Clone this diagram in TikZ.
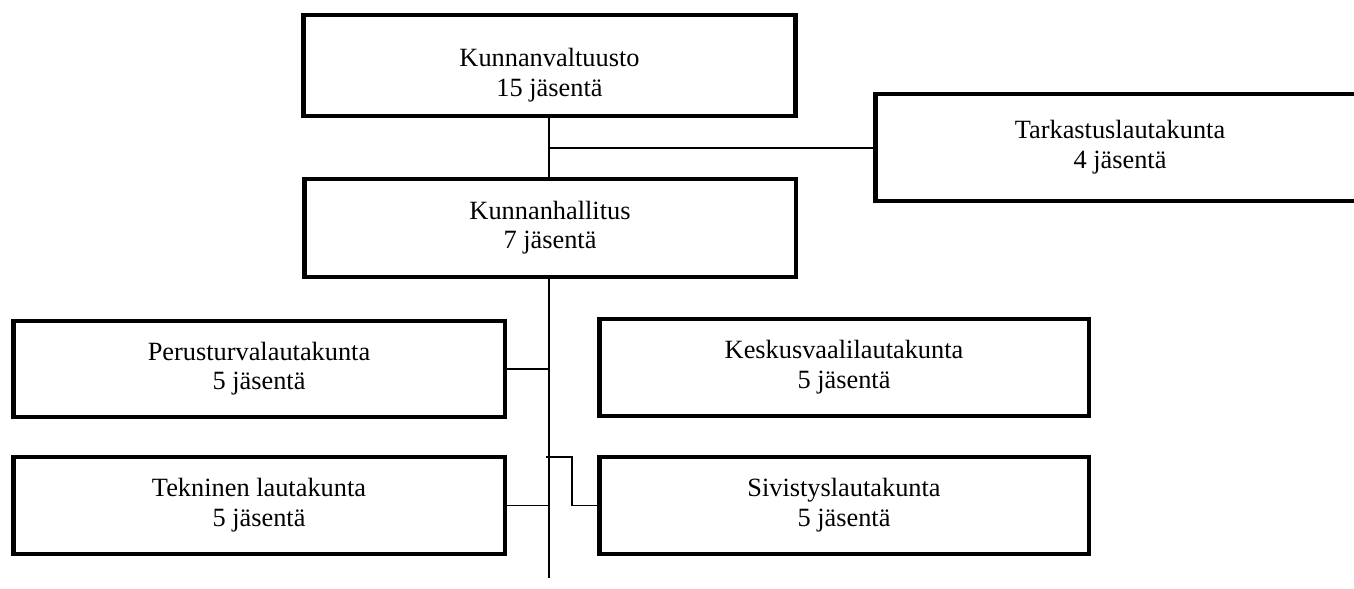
\documentclass[tikz,border=0pt]{standalone}
\usepackage{fontspec}
\setmainfont{Liberation Serif}
\usepackage{tikz}

\begin{document}
\begin{tikzpicture}[x=0.02cm, y=-0.02cm, inner sep=0, outer sep=0,
    lauta/.style={draw, line width=2.8pt, minimum width=9.84cm, minimum height=1.96cm,
        align=center, text height=27pt, font=\fontsize{15}{17}\selectfont},
    viiva/.style={line width=0.8pt}]
    \useasboundingbox (0,0) rectangle (1354,588);
    % laatikot
    \node[lauta, minimum height=2.02cm, text height=38pt] (valt) at (549.5,65.5) {Kunnanvaltuusto\\15 jäsentä};
    \node[lauta] (hall) at (550,228) {Kunnanhallitus\\7 jäsentä};
    \node[lauta, minimum width=9.8cm, minimum height=2.14cm] (tark) at (1120,147.5) {Tarkastuslautakunta\\4 jäsentä};
    \node[lauta, minimum height=1.92cm] (peru) at (259,369) {Perusturvalautakunta\\5 jäsentä};
    \node[lauta, minimum width=9.8cm, minimum height=1.94cm] (kesk) at (844,367.5) {Keskusvaalilautakunta\\5 jäsentä};
    \node[lauta, minimum height=1.94cm] (tekn) at (259,505.5) {Tekninen lautakunta\\5 jäsentä};
    \node[lauta, minimum width=9.8cm, minimum height=1.94cm] (sivi) at (844,505.5) {Sivistyslautakunta\\5 jäsentä};
    % viivat
    \coordinate (haara) at (549,148);
    \coordinate (loppu) at (549,578);
    \coordinate (porras) at (546,457);
    \draw[viiva] (valt.south -| haara) -- (hall.north -| haara);
    \draw[viiva] (haara) -- (tark.west |- haara);
    \draw[viiva] (hall.south -| loppu) -- (loppu);
    \draw[viiva] (peru.east) -- (peru.east -| loppu);
    \draw[viiva] (tekn.east) -- (tekn.east -| loppu);
    \draw[viiva] (porras) -- (572,457) -- (572,505.5) -- (sivi.west);
\end{tikzpicture}
\end{document}
